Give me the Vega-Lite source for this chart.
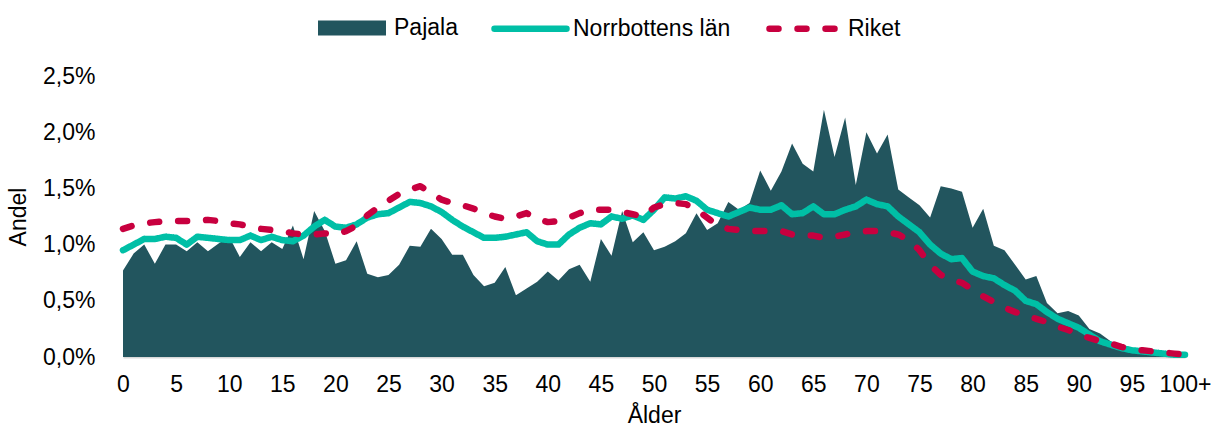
{
  "$schema": "https://vega.github.io/schema/vega-lite/v6.json",
  "width": 1062,
  "height": 281,
  "autosize": "none",
  "padding": {"left": 123, "top": 76, "right": 28, "bottom": 73},
  "config": {
    "view": {"stroke": null},
    "font": "Liberation Sans",
    "axis": {"labelFont": "Liberation Sans", "titleFont": "Liberation Sans", "labelColor": "#000000", "titleColor": "#000000", "labelFontSize": 23, "titleFontSize": 23, "titleFontWeight": "normal", "grid": false, "ticks": false},
    "legend": {"labelFont": "Liberation Sans", "labelFontSize": 23, "labelColor": "#000000", "padding": 0, "symbolSize": 4624, "labelOffset": 8, "columnPadding": 31, "direction": "horizontal", "orient": "none", "title": null}
  },
  "data": {
    "values": [
      {"alder":0,"pajala":0.77,"norrbotten":0.95,"riket":1.14},
      {"alder":1,"pajala":0.92,"norrbotten":1.00,"riket":1.17},
      {"alder":2,"pajala":1.00,"norrbotten":1.05,"riket":1.19},
      {"alder":3,"pajala":0.83,"norrbotten":1.05,"riket":1.20},
      {"alder":4,"pajala":1.00,"norrbotten":1.07,"riket":1.21},
      {"alder":5,"pajala":1.00,"norrbotten":1.06,"riket":1.21},
      {"alder":6,"pajala":0.94,"norrbotten":1.00,"riket":1.21},
      {"alder":7,"pajala":1.02,"norrbotten":1.07,"riket":1.21},
      {"alder":8,"pajala":0.94,"norrbotten":1.06,"riket":1.22},
      {"alder":9,"pajala":1.01,"norrbotten":1.05,"riket":1.21},
      {"alder":10,"pajala":1.07,"norrbotten":1.04,"riket":1.19},
      {"alder":11,"pajala":0.89,"norrbotten":1.04,"riket":1.18},
      {"alder":12,"pajala":1.02,"norrbotten":1.08,"riket":1.16},
      {"alder":13,"pajala":0.94,"norrbotten":1.04,"riket":1.14},
      {"alder":14,"pajala":1.02,"norrbotten":1.07,"riket":1.13},
      {"alder":15,"pajala":0.96,"norrbotten":1.04,"riket":1.12},
      {"alder":16,"pajala":1.17,"norrbotten":1.03,"riket":1.10},
      {"alder":17,"pajala":0.87,"norrbotten":1.08,"riket":1.09},
      {"alder":18,"pajala":1.30,"norrbotten":1.16,"riket":1.09},
      {"alder":19,"pajala":1.12,"norrbotten":1.22,"riket":1.10},
      {"alder":20,"pajala":0.83,"norrbotten":1.16,"riket":1.09},
      {"alder":21,"pajala":0.86,"norrbotten":1.15,"riket":1.12},
      {"alder":22,"pajala":1.03,"norrbotten":1.18,"riket":1.17},
      {"alder":23,"pajala":0.74,"norrbotten":1.24,"riket":1.26},
      {"alder":24,"pajala":0.71,"norrbotten":1.27,"riket":1.33},
      {"alder":25,"pajala":0.73,"norrbotten":1.28,"riket":1.39},
      {"alder":26,"pajala":0.82,"norrbotten":1.33,"riket":1.45},
      {"alder":27,"pajala":0.99,"norrbotten":1.38,"riket":1.49},
      {"alder":28,"pajala":0.98,"norrbotten":1.37,"riket":1.52},
      {"alder":29,"pajala":1.14,"norrbotten":1.34,"riket":1.46},
      {"alder":30,"pajala":1.05,"norrbotten":1.29,"riket":1.40},
      {"alder":31,"pajala":0.91,"norrbotten":1.22,"riket":1.37},
      {"alder":32,"pajala":0.91,"norrbotten":1.16,"riket":1.35},
      {"alder":33,"pajala":0.73,"norrbotten":1.11,"riket":1.32},
      {"alder":34,"pajala":0.63,"norrbotten":1.06,"riket":1.28},
      {"alder":35,"pajala":0.66,"norrbotten":1.06,"riket":1.25},
      {"alder":36,"pajala":0.80,"norrbotten":1.07,"riket":1.23},
      {"alder":37,"pajala":0.55,"norrbotten":1.09,"riket":1.25},
      {"alder":38,"pajala":0.61,"norrbotten":1.11,"riket":1.28},
      {"alder":39,"pajala":0.67,"norrbotten":1.03,"riket":1.23},
      {"alder":40,"pajala":0.76,"norrbotten":1.00,"riket":1.20},
      {"alder":41,"pajala":0.68,"norrbotten":1.00,"riket":1.21},
      {"alder":42,"pajala":0.78,"norrbotten":1.09,"riket":1.24},
      {"alder":43,"pajala":0.82,"norrbotten":1.15,"riket":1.28},
      {"alder":44,"pajala":0.67,"norrbotten":1.19,"riket":1.31},
      {"alder":45,"pajala":1.05,"norrbotten":1.18,"riket":1.31},
      {"alder":46,"pajala":0.90,"norrbotten":1.25,"riket":1.31},
      {"alder":47,"pajala":1.30,"norrbotten":1.23,"riket":1.29},
      {"alder":48,"pajala":1.02,"norrbotten":1.26,"riket":1.27},
      {"alder":49,"pajala":1.11,"norrbotten":1.22,"riket":1.25},
      {"alder":50,"pajala":0.95,"norrbotten":1.31,"riket":1.33},
      {"alder":51,"pajala":0.98,"norrbotten":1.42,"riket":1.36},
      {"alder":52,"pajala":1.03,"norrbotten":1.41,"riket":1.37},
      {"alder":53,"pajala":1.10,"norrbotten":1.43,"riket":1.36},
      {"alder":54,"pajala":1.28,"norrbotten":1.39,"riket":1.31},
      {"alder":55,"pajala":1.13,"norrbotten":1.31,"riket":1.24},
      {"alder":56,"pajala":1.19,"norrbotten":1.28,"riket":1.17},
      {"alder":57,"pajala":1.38,"norrbotten":1.25,"riket":1.14},
      {"alder":58,"pajala":1.31,"norrbotten":1.29,"riket":1.13},
      {"alder":59,"pajala":1.37,"norrbotten":1.33,"riket":1.12},
      {"alder":60,"pajala":1.66,"norrbotten":1.31,"riket":1.12},
      {"alder":61,"pajala":1.48,"norrbotten":1.31,"riket":1.12},
      {"alder":62,"pajala":1.65,"norrbotten":1.35,"riket":1.12},
      {"alder":63,"pajala":1.90,"norrbotten":1.27,"riket":1.09},
      {"alder":64,"pajala":1.72,"norrbotten":1.28,"riket":1.08},
      {"alder":65,"pajala":1.65,"norrbotten":1.34,"riket":1.08},
      {"alder":66,"pajala":2.20,"norrbotten":1.27,"riket":1.06},
      {"alder":67,"pajala":1.78,"norrbotten":1.27,"riket":1.07},
      {"alder":68,"pajala":2.13,"norrbotten":1.31,"riket":1.09},
      {"alder":69,"pajala":1.53,"norrbotten":1.34,"riket":1.11},
      {"alder":70,"pajala":2.00,"norrbotten":1.40,"riket":1.12},
      {"alder":71,"pajala":1.81,"norrbotten":1.36,"riket":1.12},
      {"alder":72,"pajala":1.98,"norrbotten":1.34,"riket":1.11},
      {"alder":73,"pajala":1.49,"norrbotten":1.25,"riket":1.09},
      {"alder":74,"pajala":1.42,"norrbotten":1.18,"riket":1.04},
      {"alder":75,"pajala":1.35,"norrbotten":1.11,"riket":0.95},
      {"alder":76,"pajala":1.24,"norrbotten":1.00,"riket":0.82},
      {"alder":77,"pajala":1.52,"norrbotten":0.92,"riket":0.73},
      {"alder":78,"pajala":1.50,"norrbotten":0.87,"riket":0.69},
      {"alder":79,"pajala":1.47,"norrbotten":0.88,"riket":0.66},
      {"alder":80,"pajala":1.15,"norrbotten":0.76,"riket":0.60},
      {"alder":81,"pajala":1.32,"norrbotten":0.72,"riket":0.54},
      {"alder":82,"pajala":0.99,"norrbotten":0.70,"riket":0.49},
      {"alder":83,"pajala":0.95,"norrbotten":0.64,"riket":0.44},
      {"alder":84,"pajala":0.82,"norrbotten":0.59,"riket":0.40},
      {"alder":85,"pajala":0.69,"norrbotten":0.50,"riket":0.37},
      {"alder":86,"pajala":0.72,"norrbotten":0.47,"riket":0.34},
      {"alder":87,"pajala":0.48,"norrbotten":0.40,"riket":0.31},
      {"alder":88,"pajala":0.39,"norrbotten":0.34,"riket":0.27},
      {"alder":89,"pajala":0.41,"norrbotten":0.30,"riket":0.24},
      {"alder":90,"pajala":0.37,"norrbotten":0.26,"riket":0.20},
      {"alder":91,"pajala":0.25,"norrbotten":0.20,"riket":0.17},
      {"alder":92,"pajala":0.21,"norrbotten":0.14,"riket":0.14},
      {"alder":93,"pajala":0.14,"norrbotten":0.11,"riket":0.12},
      {"alder":94,"pajala":0.09,"norrbotten":0.08,"riket":0.09},
      {"alder":95,"pajala":0.07,"norrbotten":0.06,"riket":0.07},
      {"alder":96,"pajala":0.05,"norrbotten":0.05,"riket":0.06},
      {"alder":97,"pajala":0.03,"norrbotten":0.04,"riket":0.05},
      {"alder":98,"pajala":0.02,"norrbotten":0.03,"riket":0.04},
      {"alder":99,"pajala":0.01,"norrbotten":0.02,"riket":0.03},
      {"alder":100,"pajala":0.01,"norrbotten":0.02,"riket":0.02}
    ]
  },
  "encoding": {
    "x": {
      "field": "alder", "type": "quantitative",
      "scale": {"domain": [0, 100], "nice": false},
      "axis": {
        "title": "Ålder",
        "values": [0,5,10,15,20,25,30,35,40,45,50,55,60,65,70,75,80,85,90,95,100],
        "labelExpr": "datum.value >= 100 ? '100+' : datum.label",
        "domainColor": "#D9D9D9", "domainWidth": 2,
        "labelPadding": 16, "titlePadding": 8, "labelFlush": false
      }
    }
  },
  "layer": [
    {
      "mark": {"type": "area", "opacity": 1, "interpolate": "linear"},
      "encoding": {
        "y": {
          "field": "pajala", "type": "quantitative",
          "scale": {"domain": [0, 2.5], "nice": false},
          "axis": {
            "title": "Andel",
            "values": [0, 0.5, 1, 1.5, 2, 2.5],
            "labelExpr": "replace(format(datum.value, '.1f'), '.', ',') + '%'",
            "domain": false, "labelPadding": 28, "titlePadding": 12
          }
        },
        "fill": {
          "datum": "Pajala",
          "scale": {"domain": ["Pajala"], "range": ["#22555E"]},
          "legend": {
            "legendX": 195,
            "legendY": -82,
            "symbolType": "M-1,-0.22L1,-0.22L1,0.22L-1,0.22Z",
            "symbolStrokeWidth": 0,
            "symbolOpacity": 1
          }
        }
      }
    },
    {
      "mark": {"type": "line", "strokeWidth": 6.5, "strokeJoin": "round", "strokeCap": "round"},
      "encoding": {
        "y": {"field": "norrbotten", "type": "quantitative"},
        "stroke": {
          "datum": "Norrbottens län",
          "scale": {"domain": ["Norrbottens län", "Riket"], "range": ["#00BFA6", "#C8003F"]},
          "legend": {
            "legendX": 368,
            "legendY": -87,
            "symbolType": "stroke",
            "symbolSize": 5184,
            "symbolStrokeWidth": 6.5,
            "symbolOpacity": 1,
            "labelOffset": 3,
            "columnPadding": 25,
            "encode": {"symbols": {"update": {"strokeCap": {"value": "round"}}}}
          }
        },
        "strokeDash": {
          "datum": "Norrbottens län",
          "scale": {"domain": ["Norrbottens län", "Riket"], "range": [[1, 0], [9, 19]]},
          "legend": {
            "legendX": 368,
            "legendY": -87,
            "symbolType": "stroke",
            "symbolSize": 5184,
            "symbolStrokeWidth": 6.5,
            "symbolOpacity": 1,
            "labelOffset": 3,
            "columnPadding": 25,
            "encode": {"symbols": {"update": {"strokeCap": {"value": "round"}}}}
          }
        }
      }
    },
    {
      "mark": {"type": "line", "strokeWidth": 6.5, "strokeCap": "round", "strokeJoin": "round"},
      "encoding": {
        "y": {"field": "riket", "type": "quantitative"},
        "stroke": {"datum": "Riket"},
        "strokeDash": {"datum": "Riket"}
      }
    }
  ]
}
